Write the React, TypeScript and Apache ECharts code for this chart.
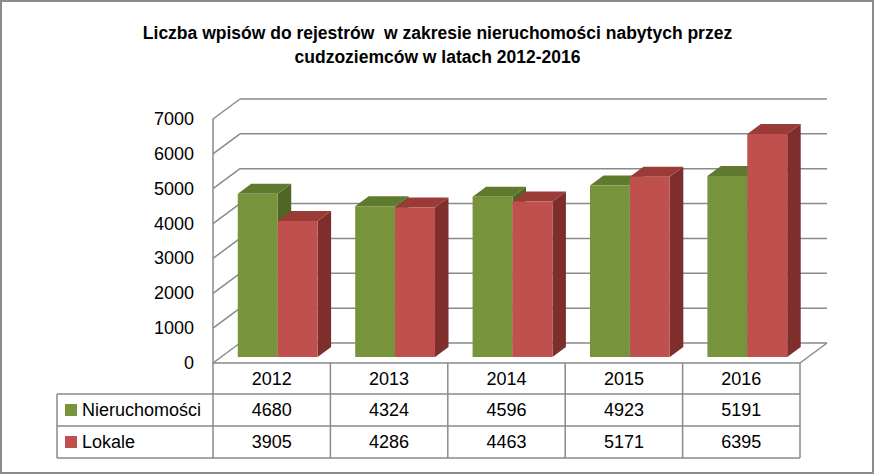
import React, { useEffect, useRef } from "react";
import * as echarts from "echarts";

const TITLE = "Liczba wpisów do rejestrów  w zakresie nieruchomości nabytych przez\ncudzoziemców w latach 2012-2016";
const years = ["2012", "2013", "2014", "2015", "2016"];
const seriesNames = ["Nieruchomości", "Lokale"];
const nieruchomosci = [4680, 4324, 4596, 4923, 5191];
const lokale = [3905, 4286, 4463, 5171, 6395];
const yTicks = [0, 1000, 2000, 3000, 4000, 5000, 6000, 7000];

const FONT = "'Liberation Sans', Arial, sans-serif";
const GRID_LEFT = 213;
const GRID_TOP = 119;
const GRID_W = 587;
const GRID_H = 244;
const X0 = GRID_LEFT;
const X1 = GRID_LEFT + GRID_W;
const Y0 = GRID_TOP + GRID_H;
const DEPTH_X = 27;
const DEPTH_Y = -20;
const TABLE_LEFT = 57;
const HEADER_H = 31;
const ROW_H = 32;
const LINE = "#8a8a8a";

const palette = [
  { front: "#77933C", top: "#5F7A2F", side: "#4F6627" },
  { front: "#C0504D", top: "#9A3B38", side: "#7E2E2C" },
];

function makeBarRender(sIdx: number) {
  return (params: any, api: any) => {
    const idx = api.value(0);
    const v = api.value(1);
    const [cx, yTop] = api.coord([idx, v]);
    const yBase = api.coord([idx, 0])[1];
    const bandW = api.size([1, 0])[0];
    const bw = bandW * 0.34;
    const gc = cx - 2;
    const sx = 8;
    const sy = -6;
    const dx = 13.5;
    const dy = -10;
    const xl = (sIdx === 0 ? gc - bw : gc) + sx;
    const xr = xl + bw;
    const yt = yTop + sy;
    const yb = yBase + sy;
    const c = palette[sIdx];
    return {
      type: "group",
      children: [
        {
          type: "polygon",
          shape: { points: [[xr, yt], [xr + dx, yt + dy], [xr + dx, yb + dy], [xr, yb]] },
          style: { fill: c.side },
        },
        {
          type: "polygon",
          shape: { points: [[xl, yt], [xl + dx, yt + dy], [xr + dx, yt + dy], [xr, yt]] },
          style: { fill: c.top },
        },
        {
          type: "rect",
          shape: { x: xl, y: yt, width: bw, height: yb - yt },
          style: { fill: c.front },
        },
      ],
    };
  };
}

function makeTableRender(row: number) {
  return (params: any, api: any) => {
    const cs = params.coordSys;
    const x = api.coord([api.value(0), 0])[0];
    const y = cs.y + cs.height + HEADER_H + ROW_H * row + ROW_H / 2;
    return {
      type: "text",
      style: {
        text: String(api.value(1)),
        x,
        y,
        align: "center",
        verticalAlign: "middle",
        fontSize: 18,
        fontFamily: FONT,
        fill: "#000",
      },
    };
  };
}

const wallRender = (params: any, api: any) => {
  const cs = params.coordSys;
  const x0 = cs.x;
  const x1 = cs.x + cs.width;
  const children: any[] = [];
  yTicks.forEach((t) => {
    const y = api.coord([0, t])[1];
    children.push({
      type: "line",
      shape: { x1: x0, y1: y, x2: x0 + DEPTH_X, y2: y + DEPTH_Y },
      style: { stroke: LINE, lineWidth: 1.5 },
    });
    children.push({
      type: "line",
      shape: { x1: x0 + DEPTH_X, y1: y + DEPTH_Y, x2: x1 + DEPTH_X, y2: y + DEPTH_Y },
      style: { stroke: LINE, lineWidth: 1.5 },
    });
  });
  const yb = api.coord([0, 0])[1];
  children.push({
    type: "line",
    shape: { x1: x1 + DEPTH_X, y1: yb + DEPTH_Y, x2: x1, y2: yb },
    style: { stroke: LINE, lineWidth: 1.5 },
  });
  return { type: "group", children };
};

export default function App() {
  const ref = useRef<HTMLDivElement>(null);
  useEffect(() => {
    document.body.style.margin = "0";
    if (!ref.current) return;
    const chart = echarts.init(ref.current, undefined, { renderer: "svg" });

    const graphic: any[] = [];
    graphic.push({
      type: "rect",
      shape: { x: 1, y: 1, width: 872, height: 472 },
      style: { fill: "none", stroke: "#8c8c8c", lineWidth: 2 },
      silent: true,
    });
    graphic.push({
      type: "text",
      style: {
        text: TITLE,
        x: 437.5,
        y: 21,
        align: "center",
        verticalAlign: "top",
        fontSize: 17.5,
        lineHeight: 24,
        fontWeight: "bold",
        fontFamily: FONT,
        fill: "#000",
      },
    });
    const tableBottom = Y0 + HEADER_H + ROW_H * seriesNames.length;
    graphic.push({
      type: "line",
      shape: { x1: X0, y1: Y0, x2: X1, y2: Y0 },
      style: { stroke: LINE, lineWidth: 1.5 },
    });
    for (let r = 0; r <= seriesNames.length; r++) {
      const y = Y0 + HEADER_H + ROW_H * r;
      graphic.push({
        type: "line",
        shape: { x1: TABLE_LEFT, y1: y, x2: X1, y2: y },
        style: { stroke: LINE, lineWidth: 1.5 },
      });
    }
    graphic.push({
      type: "line",
      shape: { x1: TABLE_LEFT, y1: Y0 + HEADER_H, x2: TABLE_LEFT, y2: tableBottom },
      style: { stroke: LINE, lineWidth: 1.5 },
    });
    for (let k = 0; k <= years.length; k++) {
      const x = X0 + (GRID_W * k) / years.length;
      graphic.push({
        type: "line",
        shape: { x1: x, y1: Y0, x2: x, y2: tableBottom },
        style: { stroke: LINE, lineWidth: 1.5 },
      });
    }
    seriesNames.forEach((name, r) => {
      const yc = Y0 + HEADER_H + ROW_H * r + ROW_H / 2;
      graphic.push({
        type: "rect",
        shape: { x: 65, y: yc - 6, width: 12, height: 12 },
        style: { fill: palette[r].front },
      });
      graphic.push({
        type: "text",
        style: {
          text: name,
          x: 82,
          y: yc,
          verticalAlign: "middle",
          fontSize: 18,
          fontFamily: FONT,
          fill: "#000",
        },
      });
    });

    chart.setOption({
      animation: false,
      grid: { left: GRID_LEFT, top: GRID_TOP, width: GRID_W, height: GRID_H },
      xAxis: {
        type: "category",
        data: years,
        axisLine: { show: false },
        axisTick: { show: false },
        splitLine: { show: false },
        axisLabel: {
          margin: 6,
          fontSize: 18,
          lineHeight: 20,
          fontFamily: FONT,
          color: "#000",
        },
      },
      yAxis: {
        type: "value",
        min: 0,
        max: 7000,
        interval: 1000,
        axisLine: { show: true, lineStyle: { color: LINE, width: 1.5 } },
        axisTick: { show: false },
        splitLine: { show: false },
        axisLabel: {
          margin: 19,
          fontSize: 18,
          fontFamily: FONT,
          color: "#000",
          formatter: (v: number) => String(v),
        },
      },
      graphic,
      series: [
        {
          type: "custom",
          name: "walls",
          silent: true,
          clip: false,
          data: [[0, 0]],
          renderItem: wallRender,
          z: 1,
        },
        {
          type: "custom",
          name: seriesNames[0],
          clip: false,
          data: nieruchomosci.map((v, i) => [i, v]),
          renderItem: makeBarRender(0),
          z: 2,
        },
        {
          type: "custom",
          name: seriesNames[1],
          clip: false,
          data: lokale.map((v, i) => [i, v]),
          renderItem: makeBarRender(1),
          z: 3,
        },
        {
          type: "custom",
          name: seriesNames[0] + " (tabela)",
          silent: true,
          clip: false,
          data: nieruchomosci.map((v, i) => [i, v]),
          renderItem: makeTableRender(0),
          z: 4,
        },
        {
          type: "custom",
          name: seriesNames[1] + " (tabela)",
          silent: true,
          clip: false,
          data: lokale.map((v, i) => [i, v]),
          renderItem: makeTableRender(1),
          z: 4,
        },
      ],
    });
    return () => chart.dispose();
  }, []);
  return <div ref={ref} style={{ width: 875, height: 475 }} />;
}
